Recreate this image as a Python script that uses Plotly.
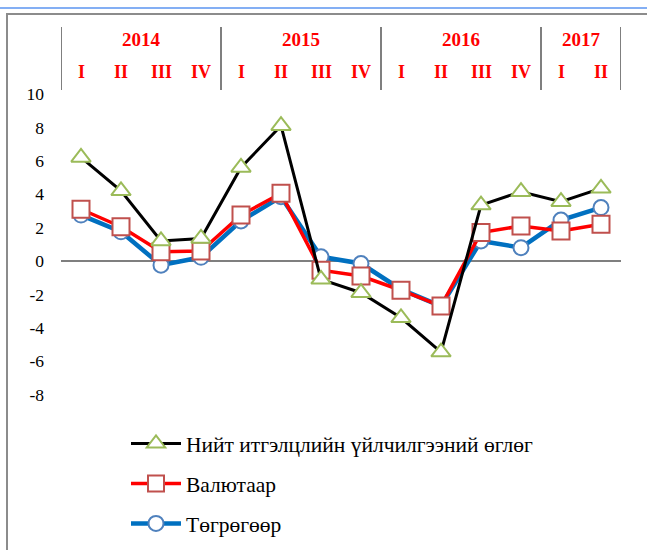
import plotly.graph_objects as go

years = ["2014", "2015", "2016", "2017"]
quarters_per_year = [4, 4, 4, 2]
quarter_names = ["I", "II", "III", "IV"]
categories = ["2014 I", "2014 II", "2014 III", "2014 IV",
              "2015 I", "2015 II", "2015 III", "2015 IV",
              "2016 I", "2016 II", "2016 III", "2016 IV",
              "2017 I", "2017 II"]

total = [6.2, 4.2, 1.2, 1.35, 5.6, 8.1, -1.1, -1.9, -3.4, -5.45, 3.35, 4.15, 3.55, 4.35]
currency = [3.1, 2.05, 0.55, 0.6, 2.75, 4.05, -0.55, -0.9, -1.75, -2.7, 1.7, 2.1, 1.8, 2.2]
togrog = [2.75, 1.75, -0.25, 0.22, 2.4, 3.85, 0.25, -0.15, -1.7, -2.7, 1.2, 0.8, 2.45, 3.2]

names = ["Нийт итгэлцлийн үйлчилгээний өглөг", "Валютаар", "Төгрөгөөр"]
yticks = [-8, -6, -4, -2, 0, 2, 4, 6, 8, 10]
yticktext = ["-8", "-6", "-4", "-2", "0", "2", "4", "6", "8", "10"]

FONT = "Times New Roman, Liberation Serif, DejaVu Serif, serif"

fig = go.Figure()
# draw order: blue, red, black (black on top)
fig.add_trace(go.Scatter(
    x=categories, y=togrog, name=names[2], mode="lines+markers",
    line=dict(color="#0070C0", width=4.5),
    marker=dict(symbol="circle", size=15, color="white",
                line=dict(color="#4F81BD", width=2)),
    legendrank=3, legendgroup="c"))
fig.add_trace(go.Scatter(
    x=categories, y=currency, name=names[1], mode="lines+markers",
    line=dict(color="#FF0000", width=3.5),
    marker=dict(symbol="square", size=17, color="white",
                line=dict(color="#C0504D", width=2)),
    legendrank=2, legendgroup="b"))
fig.add_trace(go.Scatter(
    x=categories, y=total, name=names[0], mode="lines+markers",
    line=dict(color="#000000", width=3),
    marker=dict(symbol="triangle-up", size=17, color="white",
                line=dict(color="#9BBB59", width=2)),
    legendrank=1, legendgroup="a"))

L, T, B = 61, 94, 428
W, H = 647, 550
pw, ph = 560, B - T

def px_to_paper_x(px):
    return (px - L) / pw

def px_to_paper_y(py):
    return (B - py) / ph

shapes = []
annotations = []
start = 0
for yr, n in zip(years, quarters_per_year):
    shapes.append(dict(type="line", xref="x", yref="paper",
                       x0=start - 0.5, x1=start - 0.5,
                       y0=px_to_paper_y(90), y1=px_to_paper_y(27),
                       line=dict(color="#7F7F7F", width=2)))
    annotations.append(dict(xref="x", yref="paper", x=start + (n - 1) / 2,
                            y=px_to_paper_y(40), yanchor="middle", xanchor="center",
                            text="<b>%s</b>" % yr,
                            showarrow=False, font=dict(family=FONT, size=19, color="#FF0000")))
    for q in range(n):
        annotations.append(dict(xref="x", yref="paper", x=start + q,
                                y=px_to_paper_y(72), yanchor="middle", xanchor="center",
                                text="<b>%s</b>" % quarter_names[q],
                                showarrow=False, font=dict(family=FONT, size=18, color="#FF0000")))
    start += n
shapes.append(dict(type="line", xref="x", yref="paper",
                   x0=start - 0.5, x1=start - 0.5,
                   y0=px_to_paper_y(90), y1=px_to_paper_y(27),
                   line=dict(color="#7F7F7F", width=2)))

# outer frame
shapes.append(dict(type="rect", xref="paper", yref="paper",
                   x0=px_to_paper_x(7), x1=px_to_paper_x(700),
                   y0=px_to_paper_y(600), y1=px_to_paper_y(14),
                   line=dict(color="#8C8C8C", width=2), layer="below"))
# top blue rule
shapes.append(dict(type="line", xref="paper", yref="paper",
                   x0=px_to_paper_x(0), x1=px_to_paper_x(W),
                   y0=px_to_paper_y(8), y1=px_to_paper_y(8),
                   line=dict(color="#5B95F0", width=1.5)))

fig.update_layout(
    width=W, height=H,
    margin=dict(l=L, r=W - L - pw, t=T, b=H - B, pad=0, autoexpand=False),
    paper_bgcolor="white", plot_bgcolor="white",
    font=dict(family=FONT),
    showlegend=True,
    legend=dict(x=px_to_paper_x(126), y=px_to_paper_y(423), xanchor="left", yanchor="top",
                font=dict(family=FONT, size=21.5, color="#000000"),
                itemwidth=50,
                tracegroupgap=9, bgcolor="rgba(0,0,0,0)"),
    xaxis=dict(range=[-0.5, len(categories) - 0.5], showticklabels=False, showgrid=False,
               zeroline=False, showline=False, ticks="", automargin=False),
    yaxis=dict(range=[-10, 10], tickvals=yticks, ticktext=yticktext,
               showgrid=False, showline=False, automargin=False,
               zeroline=True, zerolinecolor="#7F7F7F", zerolinewidth=2,
               ticks="", ticklabelstandoff=16,
               tickfont=dict(family=FONT, size=17.5, color="#000000")),
    shapes=shapes, annotations=annotations,
)

fig.write_html("out.html", config={"displayModeBar": False},
               post_script="document.body.style.margin='0';document.body.style.padding='0';")
